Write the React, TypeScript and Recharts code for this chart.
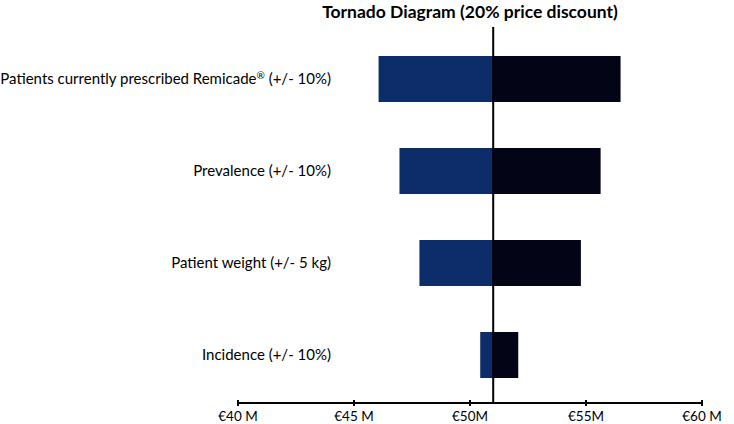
import React from 'react'
import { BarChart, Bar, XAxis, YAxis, ReferenceLine } from 'recharts'

// values in € millions
const categories = [
    'Patients currently prescribed Remicade® (+/- 10%)',
    'Prevalence (+/- 10%)',
    'Patient weight (+/- 5 kg)',
    'Incidence (+/- 10%)'
]
const lowValues = [46.06, 46.96, 47.82, 50.44]
const highValues = [56.49, 55.63, 54.78, 52.08]
const baseValue = 51.0

const xTicks = [40, 45, 50, 55, 60]
const xTickLabels = ['€40 M', '€45 M', '€50M', '€55M', '€60 M']

const data = categories.map((name, i) => ({
    name,
    spacer: lowValues[i],
    down: baseValue - lowValues[i],
    up: highValues[i] - baseValue
}))

const font = 'Lato, "Open Sans", sans-serif'

const XTick = (props: any) => {
    const { x, y, index } = props
    return (
        <g>
            <line x1={x} x2={x} y1={y - 3} y2={y + 3} stroke="#000" strokeWidth={2} />
            <text x={x} y={y + 18} textAnchor="middle" fontSize={13.5} fill="#000" fontFamily={font}>
                {xTickLabels[index]}
            </text>
        </g>
    )
}

// ® is drawn raised and smaller, like the original
const YTick = (props: any) => {
    const { y, payload } = props
    const parts = String(payload.value).split('®')
    return (
        <text x={331} y={y} dy={5} textAnchor="end" fontSize={15} fill="#000" fontFamily={font}>
            {parts.map((p, i) => (
                <React.Fragment key={i}>
                    {i > 0 && (
                        <tspan fontSize={10} dy={-5}>
                            ®
                        </tspan>
                    )}
                    {i > 0 ? <tspan dy={5}>{p}</tspan> : p}
                </React.Fragment>
            ))}
        </text>
    )
}

const App: React.FC = () => {
    return (
        <div style={{ position: 'absolute', left: 0, top: 0, width: 734, height: 424, background: '#fff' }}>
            <div
                style={{
                    position: 'absolute',
                    left: 238,
                    width: 464,
                    top: 1,
                    textAlign: 'center',
                    fontFamily: font,
                    fontWeight: 700,
                    fontSize: 17.5
                }}
            >
                Tornado Diagram (20% price discount)
            </div>
            <BarChart
                width={734}
                height={424}
                data={data}
                layout="vertical"
                margin={{ top: 27, right: 32, left: 0, bottom: 0 }}
            >
                <XAxis
                    type="number"
                    domain={[40, 60]}
                    ticks={xTicks}
                    allowDataOverflow
                    height={21}
                    tickLine={false}
                    tickSize={0}
                    tickMargin={0}
                    axisLine={{ stroke: '#000', strokeWidth: 2 }}
                    tick={<XTick />}
                />
                <YAxis
                    type="category"
                    dataKey="name"
                    width={238}
                    axisLine={false}
                    tickLine={false}
                    tickSize={0}
                    padding={{ top: 6, bottom: 2 }}
                    tick={<YTick />}
                    interval={0}
                />
                <Bar dataKey="spacer" stackId="t" fill="transparent" barSize={46} isAnimationActive={false} />
                <Bar dataKey="down" stackId="t" fill="#0c2d69" barSize={46} isAnimationActive={false} />
                <Bar dataKey="up" stackId="t" fill="#030516" barSize={46} isAnimationActive={false} />
                <ReferenceLine x={baseValue} stroke="#000" strokeWidth={2} />
            </BarChart>
        </div>
    )
}

export default App
